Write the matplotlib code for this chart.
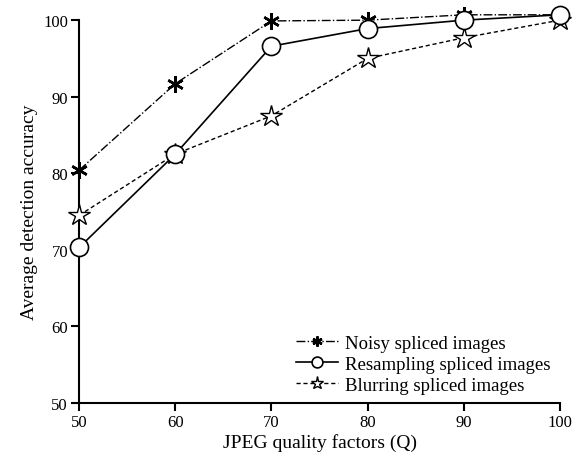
import matplotlib
matplotlib.use("Agg")
import matplotlib.pyplot as plt

# JPEG quality factors
quality = [50, 60, 70, 80, 90, 100]
# average detection accuracy
noisy = [80.4, 91.7, 99.9, 100.0, 100.7, 100.7]
resampling = [70.3, 82.5, 96.6, 98.9, 100.0, 100.7]
blurring = [74.5, 82.5, 87.5, 95.0, 97.7, 100.0]

plt.rcParams['font.family'] = ['Liberation Serif', 'DejaVu Serif']

fig = plt.figure(figsize=(5.82, 4.6), dpi=100)
ax = fig.add_axes([0.136, 0.122, 0.826, 0.832])

ax.plot(quality, noisy, color="black", linestyle="-.", linewidth=1,
        marker=(6, 2, 0), markersize=12, markeredgewidth=1.8,
        label="Noisy spliced images", clip_on=False, zorder=3)
ax.plot(quality, resampling, color="black", linestyle="-", linewidth=1.2,
        marker="o", markersize=13, markerfacecolor="white", markeredgewidth=1.2,
        label="Resampling spliced images", clip_on=False, zorder=4)
ax.plot(quality, blurring, color="black", linestyle=(0, (3, 2)), linewidth=1,
        marker="*", markersize=16, markerfacecolor="white", markeredgewidth=1,
        label="Blurring spliced images", clip_on=False, zorder=3)

ax.set_xlim(50, 100)
ax.set_ylim(50, 100)
ax.set_xticks(quality)
ax.set_yticks([50, 60, 70, 80, 90, 100])
ax.spines['top'].set_visible(False)
ax.spines['right'].set_visible(False)
ax.spines['left'].set_linewidth(1.5)
ax.spines['bottom'].set_linewidth(1.5)
ax.tick_params(direction="out", length=6, width=1.5, labelsize=12, pad=2)

ax.set_xlabel("JPEG quality factors (Q)", fontsize=14, labelpad=2)
ax.set_ylabel("Average detection accuracy", fontsize=14, labelpad=4)

leg = ax.legend(loc="lower right", bbox_to_anchor=(1.0, 0.0), frameon=False,
                fontsize=13.5, handlelength=2.2, handletextpad=0.4,
                labelspacing=0.2, markerscale=0.6, borderaxespad=0.1)

fig.savefig("out.png", dpi=100)
